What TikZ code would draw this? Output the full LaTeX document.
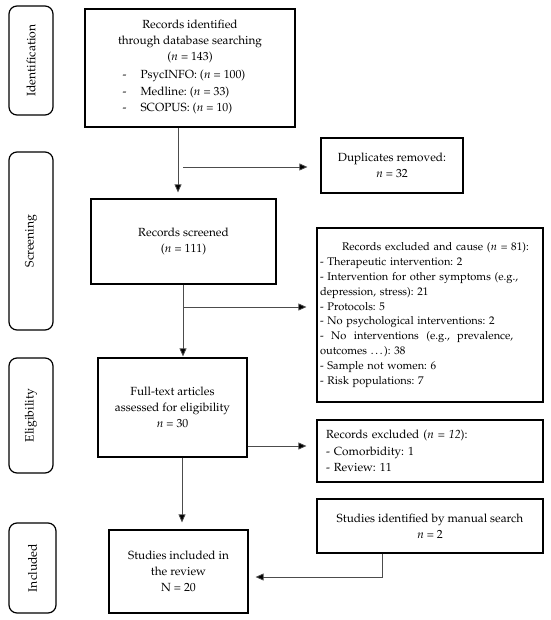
\documentclass[tikz,border=0pt]{standalone}
\usepackage[T1]{fontenc}
\usepackage{mathpazo}
\usetikzlibrary{arrows.meta,calc}
\begin{document}
\frenchspacing
\begin{tikzpicture}[x=1pt,y=-1pt,
  box/.style={draw=black,line width=1.2pt,inner sep=3pt,align=center,font=\fontsize{11.8}{16.3}\selectfont},
  side/.style={draw=black,line width=1.2pt,rounded corners=8pt,rotate=90,font=\fontsize{12.2}{14}\selectfont},
  arr/.style={draw=black!70,line width=0.8pt,-{Triangle[length=8pt,width=7pt,fill=black]}}]
\useasboundingbox (0,0) rectangle (550,620);
% side labels
\node[side, minimum width=109pt, minimum height=44pt] (sid) at (31,60.5) {Identification};
\node[side, minimum width=178pt, minimum height=44pt] (sscr) at (31,241) {Screening};
\node[side, minimum width=115pt, minimum height=44pt] (selg) at (31,415.5) {Eligibility};
\node[side, minimum width=90pt, minimum height=47pt] (sinc) at (32.5,568) {Included};
% main boxes
\node[box, minimum width=210pt, minimum height=118pt] (b1) at (190,68) {Records identified\\ through database searching\\ ($n$ = 143)\\[3pt]
\begin{tabular}{@{}l@{\hspace{14pt}}l@{}}-&PsycINFO: ($n$ = 100)\\-&Medline: ($n$ = 33)\\-&SCOPUS: ($n$ = 10)\end{tabular}\hspace*{12pt}};
\node[box, minimum width=142pt, minimum height=55pt] (dup) at (392,165.5) {Duplicates removed:\\ $n$ = 32};
\node[box, minimum width=185pt, minimum height=85pt] (b2) at (183.5,241.5) {Records screened\\ ($n$ = 111)};
\node[box, align=left, text width=220pt, minimum height=174pt, font=\fontsize{11.1}{14.8}\selectfont] (ex) at (430,315) {\hspace*{22pt}Records excluded and cause ($n$ = 81):\\
- Therapeutic intervention: 2\\
- Intervention for other symptoms (e.g.,\\
depression, stress): 21\\
- Protocols: 5\\
- No psychological interventions: 2\\
\makebox[220pt][s]{- \ No \ interventions \ (e.g., \ prevalence,}\\
outcomes \ldots): 38\\
- Sample not women: 6\\
- Risk populations: 7};
\node[box, minimum width=149pt, minimum height=99pt] (b3) at (172.5,407.5) {Full-text articles\\ assessed for eligibility\\ $n$ = 30};
\node[box, align=left, text width=208pt, inner xsep=9pt, minimum height=62pt] (ex12) at (430,451) {Records excluded (\textit{n = 12}):\\- Comorbidity: 1\\- Review: 11};
\node[box, minimum width=226pt, minimum height=54pt] (man) at (430,526) {Studies identified by manual search\\ $n$ = 2};
\node[box, minimum width=139pt, minimum height=83pt] (b4) at (178.5,571.5) {Studies included in\\ the review\\ N = 20};
% connectors
\coordinate (v1) at (178,0);
\draw[arr, shorten >=6pt] (b1.south -| v1) -- (b2.north -| v1);
\coordinate (d0) at (183,167);
\draw[arr, shorten >=13pt] (d0) -- (d0 -| dup.west);
\coordinate (v2) at (183,0);
\draw[arr, shorten >=1pt] (b2.south -| v2) -- (b3.north -| v2);
\coordinate (e0) at (183,307);
\draw[arr, shorten >=10pt] (e0) -- (e0 -| ex.west);
\coordinate (v3) at (182,0);
\draw[arr, shorten >=7pt] (b3.south -| v3) -- (b4.north -| v3);
\coordinate (e1) at (0,446);
\draw[arr, shorten >=10pt] (b3.east |- e1) -- (ex12.west |- e1);
\coordinate (m0) at (382,577);
\draw[arr, shorten >=7pt] (man.south -| m0) |- (b4.east |- m0);
\end{tikzpicture}
\end{document}
